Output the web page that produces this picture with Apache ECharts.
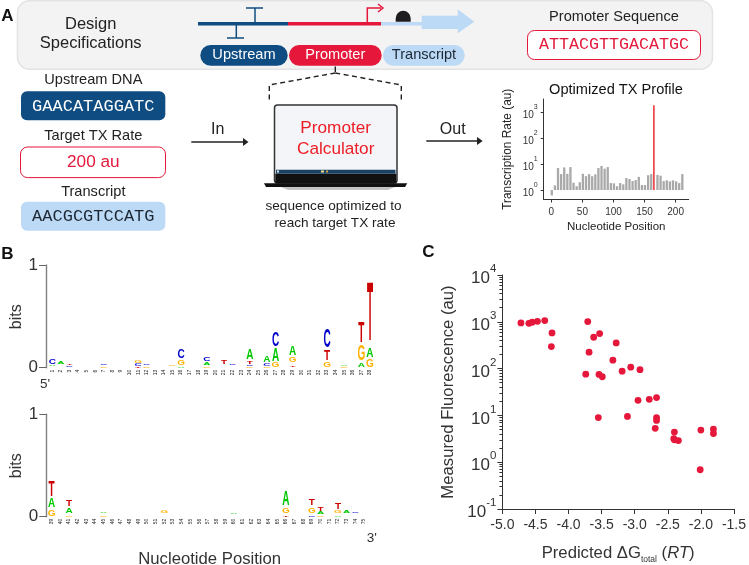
<!DOCTYPE html>
<html><head><meta charset="utf-8">
<style>html,body{margin:0;padding:0;background:#fff}#c{width:749px;height:565px}</style>
<script src="https://cdn.jsdelivr.net/npm/echarts@6/dist/echarts.min.js"></script>
</head><body><div id="c"></div>
<script>
// ---------- data ----------
const txPositions = [0,5,10,15,20,25,30,35,40,45,50,55,60,65,70,75,80,85,90,95,100,105,110,115,120,125,130,135,140,145,150,155,160,170,175,180,185,190,195,200,205,210];
const txRates = [0.62,1.5,7,4.1,7.4,4.2,7.6,1.9,1.4,2.0,4.2,3.4,4.1,3.4,4,7,8.4,6.6,7.6,1.85,1.8,1.4,1.85,1.65,2.9,2.65,2.2,2.4,3.2,1.55,1.55,3.7,4.1,3.8,3.55,2.2,2.35,2.15,2.35,2.15,1.85,4.1];
const txTargetPosition = [165];
const txTargetRate = [1800];
const txXTicks = [0,50,100,150,200];
const decadeTicks = [1,10,100,1000];

const scatterDG = [-4.72,-4.60,-4.55,-4.47,-4.36,-4.25,-4.26,-3.71,-3.62,-3.53,-3.69,-3.28,-3.33,-3.74,-3.54,-3.49,-3.19,-3.06,-2.92,-3.55,-3.11,-2.95,-2.78,-2.67,-2.67,-2.67,-2.69,-2.40,-2.41,-2.40,-2.34,-2.00,-1.81,-1.81,-2.01];
const scatterFluor = [946,930,977,1026,1060,578,296,1010,468,560,224,354,151,76,75,67,88,107,95,9.0,9.5,21,22,24,9.0,7.8,5.3,4.4,3.2,3.0,2.9,4.85,5.1,4.1,0.69];
const fluorMinorTicks = [0.2,0.3,0.4,0.5,0.6,0.7,0.8,0.9,2,3,4,5,6,7,8,9,20,30,40,50,60,70,80,90,200,300,400,500,600,700,800,900,2000,3000,4000,5000,6000,7000,8000,9000];

// sequence logo stacks: position, then [letter, bits] from the bottom up (' ' = gap)
const logoTopPositions = [1,2,3,7,11,12,15,16,19,21,22,24,26,27,29,33,35,37,38];
const logoTopStacks = [
 [[' ',.02],['A',.01],[' ',.005],['C',.05]],
 [[' ',.035],['A',.025]],
 [[' ',.005],['C',.008],[' ',.012],['T',.006]],
 [['G',.012],[' ',.01],['C',.012]],
 [['T',.008],[' ',.005],['C',.02],[' ',.005],['G',.03]],
 [['G',.012],[' ',.01],['C',.012]],
 [[' ',.02],['G',.012]],
 [['A',.01],[' ',.01],['G',.05],[' ',.015],['C',.09]],
 [['G',.01],[' ',.012],['A',.025],[' ',.01],['C',.035]],
 [[' ',.03],['T',.035]],
 [[' ',.025],['C',.01]],
 [['G',.015],[' ',.005],['C',.012],[' ',.005],['T',.03],[' ',.005],['A',.1]],
 [['G',.012],[' ',.005],['C',.025],[' ',.01],['A',.065]],
 [['G',.05],[' ',.003],['A',.125],[' ',.015],['C',.145]],
 [[' ',.005],['T',.012],[' ',.03],['G',.05],[' ',.015],['A',.095]],
 [['G',.05],[' ',.015],['T',.1],[' ',.015],['C',.18]],
 [['G',.01],[' ',.005],['A',.01]],
 [['A',.04],[' ',.02],['G',.155],[' ',.015],['T',.21]],
 [['G',.08],[' ',.015],['A',.09],[' ',.015],['T',.58]]
];
const logoBottomPositions = [39,41,45,52,60,66,69,70,72,73,74];
const logoBottomStacks = [
 [['G',.065],[' ',.02],['A',.085],[' ',.015],['T',.16]],
 [['G',.006],[' ',.025],['A',.05],[' ',.015],['T',.065]],
 [['G',.01],[' ',.02],['A',.015]],
 [[' ',.035],['G',.02]],
 [[' ',.025],['A',.008]],
 [['T',.012],[' ',.02],['G',.055],[' ',.015],['A',.14]],
 [['C',.012],[' ',.02],['G',.055],[' ',.015],['T',.065]],
 [['G',.006],[' ',.015],['A',.025],[' ',.01],['T',.035]],
 [['A',.012],[' ',.02],['G',.03],[' ',.01],['T',.065]],
 [[' ',.035],['A',.025]],
 [[' ',.03],['C',.015]]
];
const logoTopTicks = Array.from({length:38},(_,i)=>i+1);
const logoBottomTicks = Array.from({length:37},(_,i)=>i+39);
const logoColors = {A:'#00c800',C:'#0000cc',G:'#ffb000',T:'#cc0000'};

// ---------- helpers ----------
const FONT='"Liberation Sans",Arial,sans-serif', MONO='"Liberation Mono","DejaVu Sans Mono",monospace';
const NAVY='#0f4c81', RED='#e5173a', PALE='#bcd9f5', INK='#222';
function T(text,x,y,size,fill,extra){return Object.assign({type:'text',x,y,z:10,silent:true,style:Object.assign({text,fill:fill||INK,align:'center',verticalAlign:'middle',font:size+'px '+FONT},extra||{})});}
function R(x,y,w,h,r,fill,stroke,lw,z){return {type:'rect',silent:true,z:z||5,shape:{x,y,width:w,height:h,r},style:{fill:fill||'none',stroke:stroke||null,lineWidth:lw||0}};}
function L(pts,stroke,lw,dash){return {type:'polyline',silent:true,z:6,shape:{points:pts},style:{fill:'none',stroke,lineWidth:lw,lineDash:dash||null}};}
function P(pts,fill){return {type:'polygon',silent:true,z:6,shape:{points:pts},style:{fill}};}

function logoItems(positions,stacks){
  const out=[];
  positions.forEach((p,i)=>{let b=0;stacks[i].forEach(([l,h])=>{if(l!==' ')out.push([p,b,b+h,'ACGT'.indexOf(l)]);b+=h;});});
  return out;
}
function renderLetter(params,api){
  const p=api.value(0),b=api.value(1),t=api.value(2),l='ACGT'[api.value(3)];
  const c0=api.coord([p,b]),c1=api.coord([p,t]);
  const S=20;
  return {type:'text',x:c0[0],y:(c0[1]+c1[1])/2,scaleX:7.2/(0.72*S),scaleY:Math.max(c0[1]-c1[1],0.5)/(0.716*S),
    silent:true,style:{text:l,font:'bold '+S+'px "Liberation Sans"',fill:logoColors[l],align:'center',verticalAlign:'middle'}};
}
const sup=()=>v=>`{b|10}{s|${Math.round(Math.log10(v))}}`;
function richTick(big,small){return {b:{fontSize:big,lineHeight:big+7,verticalAlign:'bottom',color:'#333',fontFamily:FONT},s:{fontSize:small,lineHeight:big+7,verticalAlign:'top',color:'#333',fontFamily:FONT}};}

const graphic=[
 R(17.5,0.8,695,68.5,12,'#f3f3f3','#e3e3e3',1.5,1),
 T('A',7.5,16,17,'#111',{font:'bold 17px '+FONT}),
 T('Design',90.7,24,16.5),T('Specifications',90.7,43.7,16.5),
 // gene schematic
 R(381,21.9,41,3.6,0,PALE),
 P([[421.7,15.7],[457.7,15.7],[457.7,9.3],[474.3,21.7],[457.7,33.3],[457.7,29],[421.7,29]],PALE),
 R(198,21.9,90,3.6,0,NAVY),R(288,21.9,93,3.6,0,RED),
 L([[246,8],[263,8]],NAVY,1.5),L([[255,8],[255,23]],NAVY,1.5),
 L([[227,38],[244,38]],NAVY,1.5),L([[236.3,38],[236.3,24]],NAVY,1.5),
 L([[367.3,23],[367.3,8],[381,8]],RED,1.5),L([[378,4],[383,8],[378,12]],RED,1.5),
 R(395.7,10.7,15,11,[7.5,7.5,0,0],'#1d1d1f'),
 R(200.3,45,87.4,20.7,10.3,NAVY),R(289,45,92.7,20.7,10.3,RED),R(383,45,81.7,20.7,10.3,PALE),
 T('Upstream',244,55.3,14.6,'#fff'),T('Promoter',335.3,55.3,14.6,'#fff'),T('Transcript',424,55.3,14.6,'#1c2733'),
 T('Promoter Sequence',614,16.7,14.6),
 R(527.5,30.5,173,29,7,'#fff',RED,1),
 T('ATTACGTTGACATGC',614,45,16.7,RED,{font:'16.7px '+MONO}),
 // dashed bracket
 L([[335.3,66.5],[335.3,72]],'#222',1.4),
 L([[335.3,73],[269.3,85],[269.3,99.5]],'#222',1.4,[5,3.5]),
 L([[335.3,73],[401.3,85],[401.3,99.5]],'#222',1.4,[5,3.5]),
 // inputs
 T('Upstream DNA',93.3,80,14.6),
 R(21,91.3,144.3,29,6,NAVY),T('GAACATAGGATC',93.3,106,17,'#fff',{font:'17px '+MONO}),
 T('Target TX Rate',93.3,135.7,14.6),
 R(20.5,147,145,30.6,7,'#fff',RED,1),T('200 au',93.3,162.7,17.2,RED),
 T('Transcript',93.3,192,14.6),
 R(21,201.7,144.3,29,6,PALE),T('AACGCGTCCATG',93.3,216.5,17,'#1c2733',{font:'17px '+MONO}),
 // arrows
 L([[191.3,142],[244,142]],'#222',1.3),P([[243,138],[248.5,142],[243,146]],'#222'),T('In',217.7,129.3,16),
 L([[426.3,141],[478,141]],'#222',1.3),P([[477,137],[482.7,141],[477,145]],'#222'),T('Out',452.7,129.3,16),
 // laptop
 R(274.5,105,122.5,78,3,'#f3f5f8','#333',1.5),
 R(275.3,173.7,121,9.6,0,'#111',null,0,6),R(276,169.7,119.5,4,0,'#1b4263',null,0,6),
 R(277,170.5,2,2,0,'#dfe8f0',null,0,7),R(321,170.5,3,2,0,'#e9dc8a',null,0,7),R(326,170.5,2,2,0,'#d0a040',null,0,7),
 P([[264,183.2],[407.3,183.2],[405,187],[266,187]],'#111'),
 P([[281,187],[395,187],[388,190],[288,190]],'#c4c4c4'),
 T('Promoter',335.7,128.7,17.2,'#ee1c25'),T('Calculator',335.7,149.7,17.2,'#ee1c25'),
 T('sequence optimized to',333.5,206,13.6,'#222'),T('reach target TX rate',335,223.7,13.6,'#222'),
 T('Optimized TX Profile',616,90.3,14.6,'#111'),
 // panel B
 T('B',7.5,254,17,'#111',{font:'bold 17px '+FONT}),
 Object.assign(T('bits',17,316.7,16,'#333'),{rotation:Math.PI/2}),
 Object.assign(T('bits',17,465.7,16,'#333'),{rotation:Math.PI/2}),
 T("5'",45,384.3,13.5,'#333'),T("3'",371.7,538.3,13.5,'#333'),
 T('Nucleotide Position',209.7,559,16.7,'#333'),
 T('C',428.3,252.7,17,'#111',{font:'bold 17px '+FONT})
];

const logoYAxis=(idx)=>({gridIndex:idx,type:'value',min:0,max:1,interval:1,
  axisLine:{show:true,lineStyle:{color:'#808080',width:1.4}},axisTick:{show:true,length:7,lineStyle:{color:'#666',width:1}},
  axisLabel:{fontSize:17,color:'#333',fontFamily:FONT,margin:8},splitLine:{show:false}});
const logoXAxis=(idx,min,max,ticks)=>({gridIndex:idx,type:'value',min,max,
  axisLine:{show:false,onZero:false},axisTick:{show:false},splitLine:{show:false},
  axisLabel:{customValues:ticks,rotate:90,fontSize:5,color:'#222',fontFamily:FONT,margin:2}});

const option={
 animation:false,backgroundColor:'#fff',textStyle:{fontFamily:FONT},
 graphic:{elements:graphic},
 grid:[
  {left:543.7,top:99,width:145,height:100.5},
  {left:46,top:265,width:328,height:102.7},
  {left:46.3,top:414.3,width:322,height:102.4},
  {left:502.4,top:275,width:234.3,height:234.3}
 ],
 xAxis:[
  {gridIndex:0,type:'value',min:-12.3,max:221,
   name:'Nucleotide Position',nameLocation:'middle',nameGap:21,nameTextStyle:{fontSize:11.5,color:'#222',fontFamily:FONT},
   axisLine:{onZero:false,lineStyle:{color:'#333',width:1}},axisTick:{customValues:txXTicks,length:3,lineStyle:{color:'#333'}},
   axisLabel:{customValues:txXTicks,fontSize:10,color:'#333',margin:8},splitLine:{show:false}},
  logoXAxis(1,0.27,38.47,logoTopTicks),
  logoXAxis(2,38.38,75.5,logoBottomTicks),
  {gridIndex:3,z:20,type:'value',min:-5,max:-1.5,interval:0.5,position:'bottom',
   name:'{a|Predicted ΔG}{c|total}{a| (}{i|RT}{a|)}',nameLocation:'middle',nameGap:33,
   nameTextStyle:{rich:{a:{fontSize:16.7,color:'#333',fontFamily:FONT,lineHeight:22},c:{fontSize:8.5,color:'#333',fontFamily:FONT,lineHeight:22,verticalAlign:'bottom',padding:[7,0,0,0]},i:{fontSize:16.7,color:'#333',fontFamily:FONT,fontStyle:'italic',lineHeight:22}}},
   axisLine:{show:true,onZero:false,lineStyle:{color:'#333',width:1}},axisTick:{show:true,length:5,lineStyle:{color:'#333',width:1}},
   axisLabel:{fontSize:14,color:'#333',margin:9,formatter:v=>v.toFixed(1)},splitLine:{show:false}}
 ],
 yAxis:[
  {gridIndex:0,type:'log',logBase:10,min:0.4315,max:3162,
   name:'Transcription Rate (au)',nameLocation:'middle',nameGap:30,nameTextStyle:{fontSize:11.9,color:'#222',fontFamily:FONT},
   axisLine:{show:true,onZero:false,lineStyle:{color:'#333',width:1}},axisTick:{show:true,customValues:decadeTicks,length:3,lineStyle:{color:'#333'}},
   axisLabel:{customValues:decadeTicks,formatter:sup(),rich:richTick(10,7),margin:6},splitLine:{show:false}},
  logoYAxis(1),logoYAxis(2),
  {gridIndex:3,z:20,type:'log',logBase:10,min:0.1,max:10000,position:'left',
   name:'Measured Fluorescence (au)',nameLocation:'middle',nameGap:46,nameTextStyle:{fontSize:16.7,color:'#333',fontFamily:FONT},
   axisLine:{show:true,onZero:false,lineStyle:{color:'#333',width:1}},axisTick:{show:true,length:5,lineStyle:{color:'#333',width:1}},
   axisLabel:{formatter:sup(),rich:richTick(17,11.5),margin:6},splitLine:{show:false}},
  {gridIndex:3,z:20,type:'log',logBase:10,min:0.1,max:10000,position:'left',offset:0,
   axisLine:{show:false,onZero:false},axisTick:{show:true,customValues:fluorMinorTicks,length:3,lineStyle:{color:'#333',width:1}},axisLabel:{show:false},splitLine:{show:false}}
 ],
 series:[
  {type:'bar',xAxisIndex:0,yAxisIndex:0,barWidth:2.3,itemStyle:{color:'#a9a9a9'},data:txPositions.map((p,i)=>[p,txRates[i]])},
  {type:'bar',xAxisIndex:0,yAxisIndex:0,barWidth:1.4,barGap:'-100%',itemStyle:{color:'#ee1c25'},data:txTargetPosition.map((p,i)=>[p,txTargetRate[i]])},
  {type:'custom',xAxisIndex:1,yAxisIndex:1,clip:false,renderItem:renderLetter,encode:{x:0,y:[1,2]},data:logoItems(logoTopPositions,logoTopStacks)},
  {type:'custom',xAxisIndex:2,yAxisIndex:2,clip:false,renderItem:renderLetter,encode:{x:0,y:[1,2]},data:logoItems(logoBottomPositions,logoBottomStacks)},
  {type:'scatter',xAxisIndex:3,yAxisIndex:3,z:25,symbolSize:6.8,itemStyle:{color:RED,opacity:1},data:scatterDG.map((x,i)=>[x,scatterFluor[i]])}
 ]
};
const chart=echarts.init(document.getElementById('c'),null,{renderer:'canvas'});
chart.setOption(option);
</script></body></html>
